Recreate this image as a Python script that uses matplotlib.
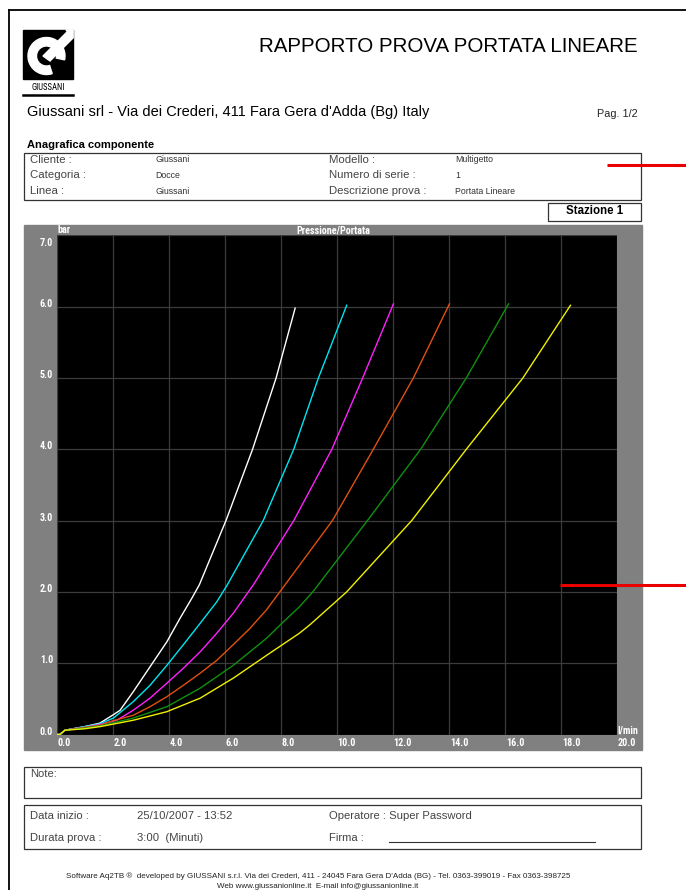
import matplotlib
matplotlib.use("Agg")
import matplotlib.pyplot as plt
from matplotlib.patches import Rectangle, Wedge, Polygon
from matplotlib.font_manager import fontManager

# ---------------- data ----------------
x_ticks = [0, 2, 4, 6, 8, 10, 12, 14, 16, 18, 20]
y_ticks = [0, 1, 2, 3, 4, 5, 6, 7]
x_tick_labels = ["0.0", "2.0", "4.0", "6.0", "8.0", "10.0", "12.0", "14.0", "16.0", "18.0", "20.0"]
y_tick_labels = ["0.0", "1.0", "2.0", "3.0", "4.0", "5.0", "6.0", "7.0"]

curve_colors = ["#ffffff", "#00e5f0", "#ff20ff", "#e05010", "#109010", "#f0f000"]

white_x = [0.0, 0.12, 0.3, 1.0, 1.55, 2.0, 2.27, 2.74, 3.34, 3.94, 4.41, 4.83, 5.1, 6.05, 7.0, 7.84, 8.52]
white_y = [0.0, 0.0, 0.06, 0.11, 0.16, 0.27, 0.34, 0.60, 0.95, 1.30, 1.63, 1.91, 2.10, 3.0, 4.0, 5.0, 5.98]

cyan_x = [0.0, 0.12, 0.3, 1.0, 1.55, 2.03, 2.74, 3.34, 3.94, 4.53, 5.13, 5.72, 6.1, 7.38, 8.47, 9.35, 10.36]
cyan_y = [0.0, 0.0, 0.06, 0.11, 0.15, 0.23, 0.46, 0.69, 0.97, 1.26, 1.56, 1.86, 2.10, 3.0, 4.0, 5.0, 6.02]

magenta_x = [0.0, 0.12, 0.3, 1.0, 1.55, 2.15, 2.74, 3.34, 3.94, 4.53, 5.13, 5.72, 6.31, 7.03, 8.47, 9.83, 10.93, 12.03]
magenta_y = [0.0, 0.0, 0.06, 0.10, 0.14, 0.20, 0.34, 0.51, 0.72, 0.93, 1.16, 1.42, 1.70, 2.10, 3.0, 4.0, 5.0, 6.04]

orange_x = [0.0, 0.12, 0.3, 1.0, 1.55, 2.0, 2.74, 3.34, 3.94, 4.53, 5.13, 5.72, 6.31, 6.91, 7.5, 8.16, 9.85, 11.31, 12.74, 14.03]
orange_y = [0.0, 0.0, 0.06, 0.10, 0.13, 0.19, 0.27, 0.39, 0.53, 0.69, 0.86, 1.04, 1.26, 1.49, 1.75, 2.10, 3.0, 4.0, 5.0, 6.04]

green_x = [0.0, 0.12, 0.3, 1.0, 1.55, 2.74, 3.94, 5.13, 6.31, 7.5, 8.1, 8.67, 9.15, 11.1, 13.0, 14.63, 16.14]
green_y = [0.0, 0.0, 0.06, 0.09, 0.12, 0.23, 0.39, 0.65, 0.97, 1.35, 1.58, 1.79, 2.0, 3.0, 4.0, 5.0, 6.04]

yellow_x = [0.0, 0.12, 0.3, 1.0, 1.55, 2.74, 3.94, 5.13, 6.31, 7.5, 8.67, 9.05, 10.36, 12.68, 14.63, 16.65, 18.35]
yellow_y = [0.0, 0.0, 0.06, 0.08, 0.11, 0.20, 0.32, 0.51, 0.79, 1.11, 1.42, 1.54, 2.0, 3.0, 4.0, 5.0, 6.02]

curves_x = [white_x, cyan_x, magenta_x, orange_x, green_x, yellow_x]
curves_y = [white_y, cyan_y, magenta_y, orange_y, green_y, yellow_y]

info_left = [("Cliente :", "Giussani"), ("Categoria :", "Docce"), ("Linea :", "Giussani")]
info_right = [("Modello :", "Multigetto"), ("Numero di serie :", "1"), ("Descrizione prova :", "Portata Lineare")]

# ---------------- fonts ----------------
names = {f.name for f in fontManager.ttflist}
SANS = ["Liberation Sans", "DejaVu Sans"]
narrow_pick = None
for cand in ["Liberation Sans Narrow", "Roboto Condensed", "Open Sans Condensed", "Noto Sans Condensed"]:
    if cand in names:
        narrow_pick = cand
        break
if narrow_pick:
    NARROW = [narrow_pick, "Liberation Sans", "DejaVu Sans"]
    tick_size = 7.3
else:
    NARROW = ["Liberation Sans", "DejaVu Sans"]
    tick_size = 6.6
plt.rcParams['font.family'] = SANS

W, H = 686, 890
fig = plt.figure(figsize=(W / 100, H / 100), dpi=100)
fig.patch.set_facecolor("white")

bg = fig.add_axes([0, 0, 1, 1])
bg.set_xlim(0, W)
bg.set_ylim(H, 0)
bg.axis("off")

# page border
bg.plot([8.5, W], [9.5, 9.5], color="black", lw=1.3)
bg.plot([8.5, 8.5], [9.5, H], color="black", lw=1.3)

# logo
bg.add_patch(Rectangle((23, 30), 50, 49, color="black"))
bg.add_patch(Wedge((46.5, 56), 18.5, 72, 372, width=8.5, color="white"))
bg.add_patch(Polygon([[43, 56], [50, 61], [73, 38], [73, 30], [69, 30]], closed=True, color="white"))
bg.add_patch(Polygon([[73, 30], [73, 38], [66, 30]], closed=True, color="white"))
bg.text(48, 87, "GIUSSANI", fontsize=6.2, ha="center", va="center", family=NARROW)
bg.plot([23, 73], [94.5, 94.5], color="black", lw=1.8)

# title & header
bg.text(638, 46, "RAPPORTO PROVA PORTATA LINEARE", fontsize=14.8, ha="right", va="center")
bg.text(27, 112, "Giussani srl - Via dei Crederi, 411 Fara Gera d'Adda (Bg) Italy", fontsize=10.55,
        ha="left", va="center")
bg.text(638, 114, "Pag. 1/2", fontsize=7.8, ha="right", va="center", color="#222222")

# info table
bg.text(27, 144.5, "Anagrafica componente", fontsize=8.0, fontweight="bold", ha="left", va="center")
bg.add_patch(Rectangle((23.5, 152.5), 617.5, 47, fill=False, ec="#333333", lw=0.9))
for i, (lab, val) in enumerate(info_left):
    yy = 160 + i * 15.5
    bg.text(30, yy, lab, fontsize=8.2, color="#444444", ha="left", va="center")
    bg.text(155, yy, val, fontsize=6.3, color="#333333", ha="left", va="center")
for i, (lab, val) in enumerate(info_right):
    yy = 160 + i * 15.5
    bg.text(329, yy, lab, fontsize=8.2, color="#444444", ha="left", va="center")
    bg.text(455, yy, val, fontsize=6.3, color="#333333", ha="left", va="center")

bg.add_patch(Rectangle((547.5, 202.5), 93.5, 18, fill=False, ec="#333333", lw=0.9))
bg.text(595, 211.5, "Stazione 1", fontsize=8.3, fontweight="bold", ha="center", va="center")

# chart frame
bg.add_patch(Rectangle((24, 225), 618, 525, color="#808080", zorder=0))

ax_l, ax_r, ax_t, ax_b = 56.5, 616.7, 235.4, 734.5
ax = fig.add_axes([ax_l / W, 1 - ax_b / H, (ax_r - ax_l) / W, (ax_b - ax_t) / H])
ax.set_facecolor("black")
ax.set_xlim(0, 20)
ax.set_ylim(0, 7)
for s in ax.spines.values():
    s.set_visible(False)
ax.set_xticks(x_ticks)
ax.set_yticks(y_ticks)
ax.tick_params(length=0, labelbottom=False, labelleft=False)
ax.grid(True, color="#3c3c3c", lw=0.9)
ax.set_axisbelow(True)

for cx, cy, col in zip(curves_x, curves_y, curve_colors):
    ax.plot(cx, cy, color=col, lw=1.0, zorder=3, solid_joinstyle="round")

tk = dict(color="white", fontsize=tick_size, fontweight="bold", family=NARROW)
for xv, lab in zip(x_ticks, x_tick_labels):
    ax.text(xv + 0.04, -0.017, lab, transform=ax.get_xaxis_transform(), ha="left", va="center", **tk)
for yv, lab in zip(y_ticks, y_tick_labels):
    yy = yv - 0.11 if yv == 7 else yv + 0.04
    ax.text(-0.006, yy, lab, transform=ax.get_yaxis_transform(), ha="right", va="center", **tk)

ax.text(0.002, 1.01, "bar", transform=ax.transAxes, ha="left", va="center", **tk)
ax.text(0.495, 1.01, "Pressione/Portata", transform=ax.transAxes, ha="center", va="center", **tk)
ax.text(1.002, 0.008, "l/min", transform=ax.transAxes, ha="left", va="center", **tk)

# notes box
bg.add_patch(Rectangle((23.5, 766.5), 617.5, 31, fill=False, ec="#333333", lw=0.9))
bg.text(30, 774, "Note:", fontsize=8.1, color="#444444", ha="left", va="center")

# date box
bg.add_patch(Rectangle((23.5, 804.5), 617.5, 44, fill=False, ec="#333333", lw=0.9))
ft = dict(fontsize=8.1, color="#444444", ha="left", va="center")
bg.text(30, 816, "Data inizio :", **ft)
bg.text(137, 816, "25/10/2007 - 13:52", **ft)
bg.text(329, 816, "Operatore : Super Password", **ft)
bg.text(30, 838, "Durata prova :", **ft)
bg.text(137, 838, "3:00  (Minuti)", **ft)
bg.text(329, 838, "Firma :", **ft)
bg.plot([389, 595], [842, 842], color="#333333", lw=0.8)

# footer
bg.text(318, 876, "Software Aq2TB \u00ae  developed by GIUSSANI s.r.l. Via dei Crederi, 411 - 24045 Fara Gera D'Adda (BG) - Tel. 0363-399019 - Fax 0363-398725",
        fontsize=5.8, ha="center", va="center", color="#222222")
bg.text(318, 883.5, "Web www.giussanionline.it  E-mail info@giussanionline.it",
        fontsize=5.8, ha="center", va="top", color="#222222")

# red marks drawn over everything
ov = fig.add_axes([0, 0, 1, 1], zorder=20)
ov.set_xlim(0, W)
ov.set_ylim(H, 0)
ov.axis("off")
ov.patch.set_alpha(0)
ov.plot([607, W], [165, 165], color="#e80000", lw=2.2, solid_capstyle="butt")
ov.plot([560, W], [585, 585], color="#e80000", lw=2.2, solid_capstyle="butt")

fig.savefig("out.png", dpi=100, facecolor="white")
